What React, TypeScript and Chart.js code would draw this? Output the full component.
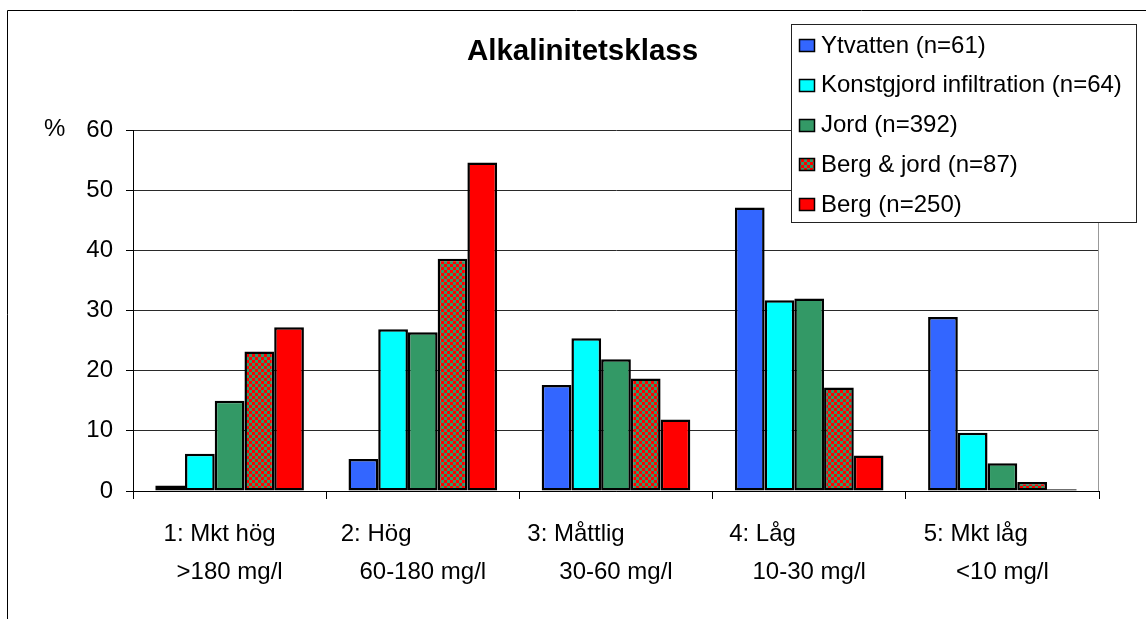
import { useEffect, useRef } from "react";
import { Chart, registerables } from "chart.js";
Chart.register(...registerables);

const FONT = '"Liberation Sans", Arial, Helvetica, sans-serif';

const titleText = "Alkalinitetsklass";
const yUnit = "%";
const classLine1 = ["1: Mkt hög   ", "2: Hög              ", "3: Måttlig            ", "4: Låg              ", "5: Mkt låg        "];
const classLine2 = [">180 mg/l", "60-180 mg/l", "30-60 mg/l", "10-30 mg/l", "<10 mg/l"];

const seriesNames = [
  "Ytvatten (n=61)",
  "Konstgjord infiltration (n=64)",
  "Jord (n=392)",
  "Berg & jord (n=87)",
  "Berg (n=250)",
];
const ytvatten = [0.9, 5.3, 17.6, 47.1, 28.9];
const konstgjord = [6.2, 26.9, 25.4, 31.7, 9.7];
const jord = [15.0, 26.4, 21.9, 32.0, 4.6];
const bergJord = [23.2, 38.6, 18.7, 17.2, 1.5];
const berg = [27.2, 54.6, 11.9, 5.9, 0.3];

const yMin = 0;
const yMax = 60;
const yStep = 5;
const yLabelStep = 10;

function makeChecker(ctx: CanvasRenderingContext2D): CanvasPattern | string {
  const cell = 3;
  const c = document.createElement("canvas");
  c.width = cell * 2;
  c.height = cell * 2;
  const g = c.getContext("2d");
  if (!g) return "#339966";
  g.fillStyle = "#339966";
  g.fillRect(0, 0, cell * 2, cell * 2);
  g.fillStyle = "#FF0000";
  g.fillRect(0, 0, cell, cell);
  g.fillRect(cell, cell, cell, cell);
  return ctx.createPattern(c, "repeat") || "#339966";
}

export default function App() {
  const ref = useRef<HTMLCanvasElement | null>(null);

  useEffect(() => {
    const canvas = ref.current;
    if (!canvas) return;
    const ctx = canvas.getContext("2d");
    if (!ctx) return;
    const checker = makeChecker(ctx);
    const colors: any[] = ["#3366FF", "#00FFFF", "#339966", checker, "#FF0000"];
    const values = [ytvatten, konstgjord, jord, bergJord, berg];

    const overlay = {
      id: "overlay",
      afterDraw(chart: any) {
        const c = chart.ctx as CanvasRenderingContext2D;
        const a = chart.chartArea;
        c.save();
        // plot area right border
        c.strokeStyle = "#999999";
        c.lineWidth = 1;
        c.beginPath();
        c.moveTo(Math.round(a.right) - 0.5, a.top);
        c.lineTo(Math.round(a.right) - 0.5, a.bottom);
        c.stroke();
        // outer frame
        c.strokeStyle = "#000";
        c.beginPath();
        c.moveTo(7.5, 619);
        c.lineTo(7.5, 10.5);
        c.lineTo(1146, 10.5);
        c.stroke();
        // title
        c.fillStyle = "#000";
        c.font = "bold 29.5px " + FONT;
        c.textAlign = "center";
        c.textBaseline = "alphabetic";
        c.fillText(titleText, 582.5, 60);
        // unit
        c.font = "24px " + FONT;
        c.textAlign = "left";
        c.textBaseline = "middle";
        c.fillText(yUnit, 44, a.top - 1);
        // legend
        const lx = 791, ly = 24, lw = 345, lh = 198;
        c.fillStyle = "#fff";
        c.fillRect(lx, ly, lw, lh);
        c.strokeStyle = "#222";
        c.strokeRect(lx + 0.5, ly + 0.5, lw, lh);
        chart.data.datasets.forEach((ds: any, i: number) => {
          const cy = 45.5 + i * 39.75;
          c.fillStyle = ds.backgroundColor;
          c.fillRect(799, Math.round(cy - 6.5), 16, 13);
          c.strokeStyle = "#000";
          c.lineWidth = 1.5;
          c.strokeRect(799.5, Math.round(cy - 6.5) + 0.5, 15, 12);
          c.fillStyle = "#000";
          c.font = "24px " + FONT;
          c.textAlign = "left";
          c.textBaseline = "alphabetic";
          c.fillText(ds.label, 821, cy + 7);
        });
        c.restore();
      },
    };

    const chart = new Chart(canvas, {
      type: "bar",
      data: {
        labels: classLine1.map((l, i) => [l, classLine2[i]]),
        datasets: seriesNames.map((name, i) => ({
          label: name,
          data: values[i],
          backgroundColor: colors[i],
          borderColor: "#000",
          borderWidth: 2.5,
          borderSkipped: false,
          categoryPercentage: 5 / 6.5,
          barPercentage: 1,
        })),
      },
      options: {
        animation: false,
        responsive: false,
        devicePixelRatio: 1,
        layout: { padding: { left: 0, top: 130, right: 47, bottom: 0 } },
        plugins: {
          legend: { display: false },
          title: { display: false },
          tooltip: { enabled: false },
        },
        scales: {
          x: {
            afterFit: (s: any) => {
              s.height = 128;
            },
            grid: {
              display: true,
              offset: true,
              drawOnChartArea: false,
              drawTicks: true,
              tickLength: 8,
              tickColor: "#000",
            },
            border: { color: "#000", width: 1 },
            ticks: {
              color: "#000",
              padding: 17,
              maxRotation: 0,
              autoSkip: false,
              font: { family: FONT, size: 24, lineHeight: 1.5625 },
            },
          },
          y: {
            min: yMin,
            max: yMax,
            afterFit: (s: any) => {
              s.width = 133;
            },
            grid: {
              color: (c: any) => (c.tick && c.tick.value % yLabelStep === 0 ? "#2a2a2a" : "rgba(0,0,0,0)"),
              tickColor: "#000",
              tickLength: 7,
            },
            border: { color: "#000", width: 1 },
            ticks: {
              stepSize: yStep,
              color: "#000",
              padding: 13,
              font: { family: FONT, size: 24 },
              callback: (v: any) => (Number(v) % yLabelStep === 0 ? String(v) : ""),
            },
          },
        },
      },
      plugins: [overlay],
    } as any);

    return () => chart.destroy();
  }, []);

  return (
    <canvas
      ref={ref}
      width={1146}
      height={619}
      style={{ position: "fixed", left: 0, top: 0, width: 1146, height: 619, display: "block", background: "#fff" }}
    />
  );
}
